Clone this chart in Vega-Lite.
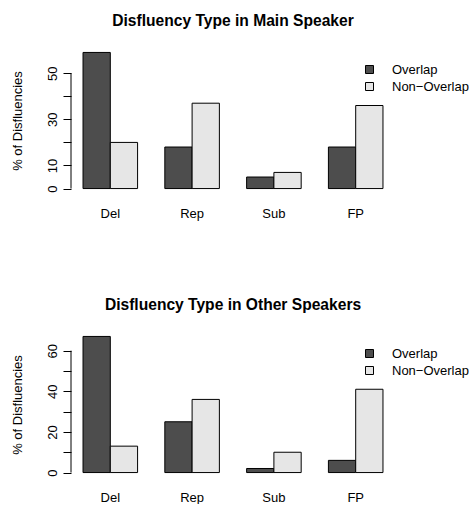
{
  "$schema": "https://vega.github.io/schema/vega-lite/v6.json",
  "background": "white",
  "padding": {"left": 10, "top": 14, "right": 0, "bottom": 0},
  "config": {"font": "Liberation Sans", "view": {"stroke": null}},
  "spacing": 78,
  "resolve": {"scale": {"y": "independent", "x": "independent", "color": "independent"}, "legend": {"color": "independent"}},
  "vconcat": [
    {
      "title": {"text": "Disfluency Type in Main Speaker", "fontSize": 15.6, "fontWeight": "bold", "anchor": "middle", "offset": 17, "color": "black"},
      "width": 324,
      "height": 147,
      "data": {"values": [
        {"type": "Del", "group": "Overlap", "pct": 59},
        {"type": "Del", "group": "Non−Overlap", "pct": 20},
        {"type": "Rep", "group": "Overlap", "pct": 18},
        {"type": "Rep", "group": "Non−Overlap", "pct": 37},
        {"type": "Sub", "group": "Overlap", "pct": 5},
        {"type": "Sub", "group": "Non−Overlap", "pct": 7},
        {"type": "FP", "group": "Overlap", "pct": 18},
        {"type": "FP", "group": "Non−Overlap", "pct": 36}
      ]},
      "layer": [
        {
          "mark": {"type": "bar", "stroke": "black", "strokeWidth": 1},
          "encoding": {
            "x": {"field": "type", "type": "nominal", "sort": ["Del", "Rep", "Sub", "FP"],
              "scale": {"paddingInner": 0.333, "paddingOuter": 0.147},
              "axis": {"title": null, "domain": false, "ticks": false, "labelAngle": 0, "labelFontSize": 13, "labelColor": "black", "labelPadding": 13}},
            "xOffset": {"field": "group", "type": "nominal", "sort": ["Overlap", "Non−Overlap"], "scale": {"paddingInner": 0, "paddingOuter": 0}},
            "y": {"field": "pct", "type": "quantitative",
              "scale": {"domain": [-2.36, 61.36], "nice": false, "zero": false},
              "axis": {"title": "% of Disfluencies", "values": [0, 10, 20, 30, 40, 50],
                "labelExpr": "datum.value == 20 || datum.value == 40 ? '' : datum.label",
                "labelAngle": -90, "labelAlign": "center", "labelBaseline": "bottom", "labelOverlap": false,
                "labelFontSize": 13, "labelColor": "black", "labelPadding": 4,
                "tickSize": 8, "tickColor": "black", "domain": false, "grid": false,
                "titleFontSize": 13, "titleFontWeight": "normal", "titleColor": "black", "titlePadding": 22}},
            "y2": {"datum": 0},
            "color": {"field": "group", "type": "nominal", "sort": ["Overlap", "Non−Overlap"],
              "scale": {"domain": ["Overlap", "Non−Overlap"], "range": ["#4D4D4D", "#E6E6E6"]},
              "legend": {"title": null, "orient": "none", "legendX": 292, "legendY": 16, "symbolType": "square", "symbolSize": 64,
                "symbolStrokeColor": "black", "symbolStrokeWidth": 1, "labelFontSize": 13, "labelColor": "black", "labelOffset": 16, "rowPadding": 3, "padding": 0}}
          }
        },
        {
          "data": {"values": [{}]},
          "mark": {"type": "rule", "color": "black", "strokeWidth": 1},
          "encoding": {"x": {"value": 0},
            "y": {"datum": 0, "type": "quantitative",
              "axis": {"title": "% of Disfluencies", "values": [0, 10, 20, 30, 40, 50],
                "labelExpr": "datum.value == 20 || datum.value == 40 ? '' : datum.label",
                "labelAngle": -90, "labelAlign": "center", "labelBaseline": "bottom", "labelOverlap": false,
                "labelFontSize": 13, "labelColor": "black", "labelPadding": 4,
                "tickSize": 8, "tickColor": "black", "domain": false, "grid": false,
                "titleFontSize": 13, "titleFontWeight": "normal", "titleColor": "black", "titlePadding": 22}},
            "y2": {"datum": 50}}
        }
      ]
    },
    {
      "title": {"text": "Disfluency Type in Other Speakers", "fontSize": 15.6, "fontWeight": "bold", "anchor": "middle", "offset": 17, "color": "black"},
      "width": 324,
      "height": 147,
      "data": {"values": [
        {"type": "Del", "group": "Overlap", "pct": 67},
        {"type": "Del", "group": "Non−Overlap", "pct": 13},
        {"type": "Rep", "group": "Overlap", "pct": 25},
        {"type": "Rep", "group": "Non−Overlap", "pct": 36},
        {"type": "Sub", "group": "Overlap", "pct": 2},
        {"type": "Sub", "group": "Non−Overlap", "pct": 10},
        {"type": "FP", "group": "Overlap", "pct": 6},
        {"type": "FP", "group": "Non−Overlap", "pct": 41}
      ]},
      "layer": [
        {
          "mark": {"type": "bar", "stroke": "black", "strokeWidth": 1},
          "encoding": {
            "x": {"field": "type", "type": "nominal", "sort": ["Del", "Rep", "Sub", "FP"],
              "scale": {"paddingInner": 0.333, "paddingOuter": 0.147},
              "axis": {"title": null, "domain": false, "ticks": false, "labelAngle": 0, "labelFontSize": 13, "labelColor": "black", "labelPadding": 13}},
            "xOffset": {"field": "group", "type": "nominal", "sort": ["Overlap", "Non−Overlap"], "scale": {"paddingInner": 0, "paddingOuter": 0}},
            "y": {"field": "pct", "type": "quantitative",
              "scale": {"domain": [-2.68, 69.68], "nice": false, "zero": false},
              "axis": {"title": "% of Disfluencies", "values": [0, 10, 20, 30, 40, 50, 60],
                "labelExpr": "datum.value == 10 || datum.value == 30 || datum.value == 50 ? '' : datum.label",
                "labelAngle": -90, "labelAlign": "center", "labelBaseline": "bottom", "labelOverlap": false,
                "labelFontSize": 13, "labelColor": "black", "labelPadding": 4,
                "tickSize": 8, "tickColor": "black", "domain": false, "grid": false,
                "titleFontSize": 13, "titleFontWeight": "normal", "titleColor": "black", "titlePadding": 22}},
            "y2": {"datum": 0},
            "color": {"field": "group", "type": "nominal", "sort": ["Overlap", "Non−Overlap"],
              "scale": {"domain": ["Overlap", "Non−Overlap"], "range": ["#4D4D4D", "#E6E6E6"]},
              "legend": {"title": null, "orient": "none", "legendX": 292, "legendY": 16, "symbolType": "square", "symbolSize": 64,
                "symbolStrokeColor": "black", "symbolStrokeWidth": 1, "labelFontSize": 13, "labelColor": "black", "labelOffset": 16, "rowPadding": 3, "padding": 0}}
          }
        },
        {
          "data": {"values": [{}]},
          "mark": {"type": "rule", "color": "black", "strokeWidth": 1},
          "encoding": {"x": {"value": 0},
            "y": {"datum": 0, "type": "quantitative",
              "axis": {"title": "% of Disfluencies", "values": [0, 10, 20, 30, 40, 50, 60],
                "labelExpr": "datum.value == 10 || datum.value == 30 || datum.value == 50 ? '' : datum.label",
                "labelAngle": -90, "labelAlign": "center", "labelBaseline": "bottom", "labelOverlap": false,
                "labelFontSize": 13, "labelColor": "black", "labelPadding": 4,
                "tickSize": 8, "tickColor": "black", "domain": false, "grid": false,
                "titleFontSize": 13, "titleFontWeight": "normal", "titleColor": "black", "titlePadding": 22}},
            "y2": {"datum": 60}}
        }
      ]
    }
  ]
}
